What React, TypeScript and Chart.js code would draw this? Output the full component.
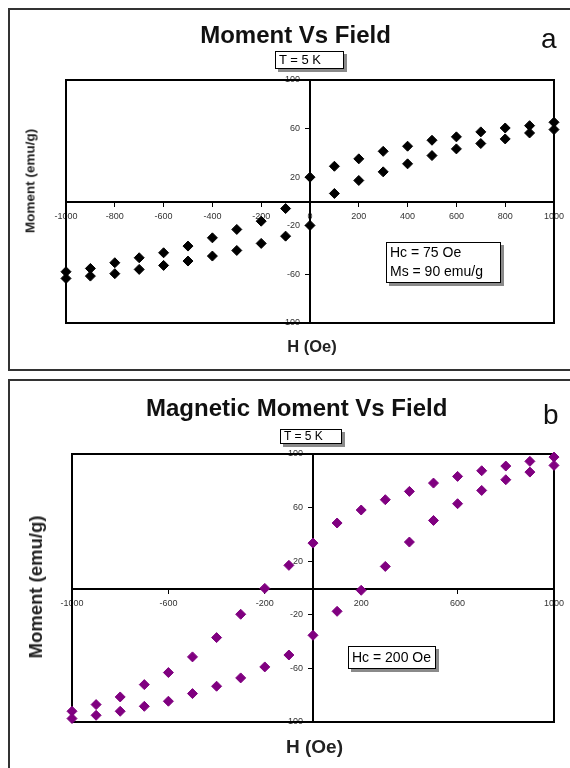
import React, { useEffect, useRef } from "react";
import { Chart, registerables } from "chart.js";

Chart.register(...registerables);

// ---------- Data ----------
// Panel a : field sweep down (+1000 -> -1000) and up (-1000 -> +1000)
const aFieldDown = [1000, 900, 800, 700, 600, 500, 400, 300, 200, 100, 0, -100, -200, -300, -400, -500, -600, -700, -800, -900, -1000];
const aMomentDown = [65.2, 62.4, 60.5, 57.3, 53.2, 50.4, 45.5, 41.3, 35.1, 29.0, 20.0, -5.8, -16.2, -23.0, -29.9, -36.7, -42.2, -46.3, -50.4, -55.1, -57.8];
const aFieldUp = [-1000, -900, -800, -700, -600, -500, -400, -300, -200, -100, 0, 100, 200, 300, 400, 500, 600, 700, 800, 900, 1000];
const aMomentUp = [-63.3, -61.4, -59.4, -55.9, -52.6, -49.0, -44.9, -40.3, -34.5, -28.5, -19.7, 6.6, 17.3, 24.4, 31.0, 37.8, 43.3, 47.7, 51.5, 56.4, 59.2];

// Panel b
const bFieldDown = [1000, 900, 800, 700, 600, 500, 400, 300, 200, 100, 0, -100, -200, -300, -400, -500, -600, -700, -800, -900, -1000];
const bMomentDown = [97.7, 94.5, 91.0, 87.5, 83.3, 78.3, 72.1, 65.9, 58.2, 48.5, 33.5, 16.9, -0.3, -19.6, -37.0, -51.4, -63.1, -72.1, -81.3, -87.0, -92.0];
const bFieldUp = [-1000, -900, -800, -700, -600, -500, -400, -300, -200, -100, 0, 100, 200, 300, 400, 500, 600, 700, 800, 900, 1000];
const bMomentUp = [-97.4, -95.0, -92.0, -88.3, -84.5, -78.8, -73.3, -67.1, -58.9, -50.0, -35.3, -17.4, -1.7, 16.1, 34.3, 50.4, 62.9, 72.8, 80.8, 86.5, 91.5];

// Axis ranges / tick steps
const fieldMin = -1000;
const fieldMax = 1000;
const momentMin = -100;
const momentMax = 100;
const momentStep = 40;
const aFieldStep = 200;
const bFieldStep = 400;

// Texts
const aTitle = "Moment Vs Field";
const bTitle = "Magnetic Moment Vs Field";
const tempLabel = "T = 5 K";
const yTitle = "Moment (emu/g)";
const xTitle = "H (Oe)";
const aNotes = ["Hc = 75 Oe", "Ms = 90 emu/g"];
const bNotes = ["Hc = 200 Oe"];

const FONT = "'Liberation Sans', Arial, Helvetica, sans-serif";

const toPoints = (xs: number[], ys: number[]) => xs.map((x, i) => ({ x, y: ys[i] }));

const frameBorder = {
  id: "frameBorder",
  beforeDatasetsDraw(chart: any) {
    const { ctx, chartArea } = chart;
    ctx.save();
    ctx.strokeStyle = "#000";
    ctx.lineWidth = 2;
    ctx.strokeRect(chartArea.left, chartArea.top, chartArea.right - chartArea.left, chartArea.bottom - chartArea.top);
    ctx.restore();
  },
};

type PlotProps = {
  top: number;
  height: number;
  pad: { left: number; right: number; top: number; bottom: number };
  fieldDown: number[];
  momentDown: number[];
  fieldUp: number[];
  momentUp: number[];
  color: string;
  xStep: number;
};

function Plot(p: PlotProps) {
  const ref = useRef<HTMLCanvasElement | null>(null);
  useEffect(() => {
    if (!ref.current) return;
    const tickFont = { family: FONT, size: 9 };
    const fmt = (v: any) => String(v);
    const ds = (xs: number[], ys: number[]) => ({
      data: toPoints(xs, ys),
      pointStyle: "rectRot",
      pointRadius: 5,
      backgroundColor: p.color,
      borderColor: p.color,
      borderWidth: 1,
      showLine: false,
      clip: false,
    });
    const chart = new Chart(ref.current, {
      type: "scatter",
      data: {
        datasets: [ds(p.fieldDown, p.momentDown) as any, ds(p.fieldUp, p.momentUp) as any],
      },
      options: {
        animation: false,
        responsive: false,
        devicePixelRatio: 1,
        layout: { padding: p.pad },
        plugins: { legend: { display: false }, tooltip: { enabled: false } },
        scales: {
          x: {
            type: "linear",
            position: "center",
            min: fieldMin,
            max: fieldMax,
            ticks: { stepSize: p.xStep, font: tickFont, color: "#333", padding: 6, maxRotation: 0, autoSkip: false, callback: fmt },
            grid: { drawOnChartArea: false, drawTicks: true, tickLength: 4, color: "#000", lineWidth: 1 },
            border: { display: true, color: "#000", width: 2 },
          },
          y: {
            type: "linear",
            position: "center",
            min: momentMin,
            max: momentMax,
            ticks: { stepSize: momentStep, font: tickFont, color: "#333", padding: 6, autoSkip: false, callback: fmt },
            grid: { drawOnChartArea: false, drawTicks: true, tickLength: 4, color: "#000", lineWidth: 1 },
            border: { display: true, color: "#000", width: 2 },
          },
        },
      },
      plugins: [frameBorder],
    });
    return () => chart.destroy();
  }, []);
  return (
    <canvas
      ref={ref}
      width={570}
      height={p.height}
      style={{ position: "absolute", left: 0, top: p.top, width: 570, height: p.height }}
    />
  );
}

const abs = (s: React.CSSProperties): React.CSSProperties => ({ position: "absolute", whiteSpace: "nowrap", ...s });

function Centered({ x, y, children, style }: { x: number; y: number; children: React.ReactNode; style?: React.CSSProperties }) {
  return <div style={abs({ left: x, top: y, transform: "translate(-50%, -50%)", ...style })}>{children}</div>;
}

function Box({ left, top, width, height, lines, fontSize, lineHeight }: { left: number; top: number; width: number; height: number; lines: string[]; fontSize: number; lineHeight: number }) {
  return (
    <div
      style={abs({
        left,
        top,
        width,
        height,
        boxSizing: "border-box",
        border: "1.5px solid #000",
        boxShadow: "3px 3px 0 #8a8a8a",
        background: "#fff",
        fontFamily: FONT,
        fontSize,
        lineHeight: lineHeight + "px",
        paddingLeft: 3,
        color: "#000",
      })}
    >
      {lines.map((l, i) => (
        <div key={i}>{l}</div>
      ))}
    </div>
  );
}

export default function App() {
  return (
    <div style={{ position: "absolute", left: 0, top: 0, width: 570, height: 768, overflow: "hidden", background: "#fff", fontFamily: FONT }}>
      {/* Panel frames */}
      <div style={abs({ left: 8, top: 8, width: 620, height: 363, boxSizing: "border-box", border: "2px solid #333" })} />
      <div style={abs({ left: 8, top: 379, width: 620, height: 500, boxSizing: "border-box", border: "2px solid #333" })} />

      {/* Panel a */}
      <Plot
        top={0}
        height={370}
        pad={{ left: 66, right: 13, top: 80, bottom: 47 }}
        fieldDown={aFieldDown}
        momentDown={aMomentDown}
        fieldUp={aFieldUp}
        momentUp={aMomentUp}
        color="#000"
        xStep={aFieldStep}
      />
      <Centered x={295.5} y={35} style={{ fontSize: 24, fontWeight: "bold", color: "#111" }}>{aTitle}</Centered>
      <div style={abs({ left: 541, top: 25, fontSize: 28, lineHeight: "28px", color: "#111" })}>a</div>
      <Box left={275} top={51} width={69} height={18} lines={[tempLabel]} fontSize={13} lineHeight={15} />
      <Centered x={30} y={181} style={{ fontSize: 13.5, fontWeight: "bold", color: "#222", transform: "translate(-50%, -50%) rotate(-90deg)" }}>{yTitle}</Centered>
      <Centered x={312} y={345.5} style={{ fontSize: 16.5, fontWeight: "bold", color: "#222" }}>{xTitle}</Centered>
      <Box left={386} top={242} width={115} height={41} lines={aNotes} fontSize={14} lineHeight={19} />

      {/* Panel b */}
      <Plot
        top={375}
        height={393}
        pad={{ left: 72, right: 13, top: 79, bottom: 46 }}
        fieldDown={bFieldDown}
        momentDown={bMomentDown}
        fieldUp={bFieldUp}
        momentUp={bMomentUp}
        color="#800080"
        xStep={bFieldStep}
      />
      <Centered x={296.7} y={408} style={{ fontSize: 24, fontWeight: "bold", color: "#111" }}>{bTitle}</Centered>
      <div style={abs({ left: 543, top: 401, fontSize: 28, lineHeight: "28px", color: "#111" })}>b</div>
      <Box left={280} top={429} width={62} height={15} lines={[tempLabel]} fontSize={12} lineHeight={12} />
      <Centered x={35.5} y={587} style={{ fontSize: 18.5, fontWeight: "bold", color: "#222", transform: "translate(-50%, -50%) rotate(-90deg)" }}>{yTitle}</Centered>
      <Centered x={314.5} y={747} style={{ fontSize: 19, fontWeight: "bold", color: "#222" }}>{xTitle}</Centered>
      <Box left={348} top={646} width={88} height={23} lines={bNotes} fontSize={14} lineHeight={20} />
    </div>
  );
}
